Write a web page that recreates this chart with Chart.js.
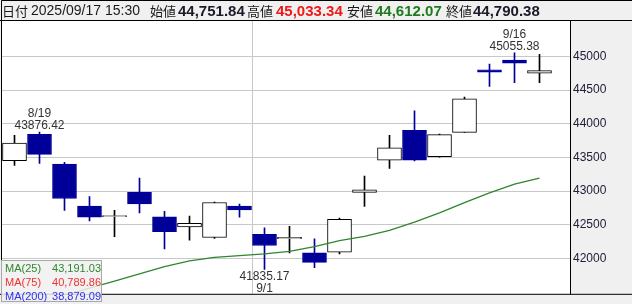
<!DOCTYPE html>
<html>
<head>
<meta charset="utf-8">
<script src="https://cdn.jsdelivr.net/npm/chart.js@4.4.1/dist/chart.umd.min.js"></script>
<style>
  body { margin: 0; background: #fff; }
  #wrap { position: relative; width: 632px; height: 304px; font-family: "Liberation Sans", Arial, "Noto Sans CJK JP", sans-serif; }
  canvas { position: absolute; left: 0; top: 0; }
  .hd { position: absolute; top: 0; line-height: 21px; white-space: nowrap; color: #1a1a1a; }
  .jp { font-family: "Noto Sans CJK JP", sans-serif; font-size: 13px; }
  .tm { font-size: 14px; }
  .vl { font-size: 15px; font-weight: bold; }
  #legend { position: absolute; left: 1px; top: 260px; width: 99px; height: 40px; border: 1px solid #a8a8a8;
            background: rgba(240, 240, 240, 0.85); font-size: 11px; line-height: 14px; }
  #legend div { display: flex; justify-content: space-between; padding: 0 0 0 3px; }
</style>
</head>
<body>
<div id="wrap">
  <canvas id="myChart" width="632" height="304"></canvas>
  <div id="header"></div>
  <div id="legend"></div>
</div>
<script>
// daily candles, 2025/08/18 - 2025/09/17
const dates = ['8/18', '8/19', '8/20', '8/21', '8/22', '8/25', '8/26', '8/27', '8/28', '8/29', '9/1',
               '9/2', '9/3', '9/4', '9/5', '9/8', '9/9', '9/10', '9/11', '9/12', '9/16', '9/17'];
const opens  = [43452, 43844, 43399, 42776, 42620, 42979, 42616, 42467, 42308, 42776, 42356,
                42290, 42080, 42090, 42979, 43457, 43902, 43510, 43873, 44804, 44949, 44751.84];
const highs  = [43829, 43876.42, 43428, 42916, 42713, 43192, 42699, 42627, 42835, 42805, 42453,
                42476, 42287, 42598, 43221, 43829, 44191, 43848, 44399, 44887, 45055.38, 45033.34];
const lows   = [43380, 43409, 42713, 42554, 42322, 42674, 42138, 42269, 42293, 42612, 41835.17,
                42080, 41859, 42066, 42771, 43337, 43447, 43505, 43870, 44554, 44612, 44612.07];
const closes = [43714, 43546, 42889, 42610, 42633, 42808, 42394, 42520, 42829, 42718, 42189,
                42310, 41939, 42580, 43019, 43644, 43459, 43838, 44373, 44768, 44902, 44790.38];
const ma25   = [41240, 41345, 41450, 41554, 41660, 41769, 41877, 41960, 42014, 42040, 42066,
                42103, 42174, 42261, 42324, 42416, 42537, 42674, 42826, 42971, 43102, 43191.03];
const yTicks = [42000, 42500, 43000, 43500, 44000, 44500, 45000];
const maNames  = ['MA(25)', 'MA(75)', 'MA(200)'];
const maLast   = ['43,191.03', '40,789.86', '38,879.09'];
const maColors = ['#2e862e', '#f03030', '#3030f0'];
const stamp = '2025/09/17 15:30';

const UP = '#000000', DOWN = '#000099';
const last = dates.length - 1;
const fmt = v => v.toLocaleString('en-US', { minimumFractionDigits: 2, maximumFractionDigits: 2 });

// header line
const headerItems = [
  ['jp', 2, '日付', null], ['tm', 31, stamp, null],
  ['jp', 150, '始値', null], ['vl', 178, fmt(opens[last]), '#1a1a2a'],
  ['jp', 247, '高値', null], ['vl', 276, fmt(highs[last]), '#f01818'],
  ['jp', 347, '安値', null], ['vl', 375, fmt(lows[last]), '#1f7a1f'],
  ['jp', 446, '終値', null], ['vl', 473, fmt(closes[last]), '#1a1a2a'],
];
document.getElementById('header').innerHTML = headerItems.map(([cls, x, txt, col]) =>
  `<span class="hd ${cls}" style="left:${x}px;${col ? 'color:' + col : ''}">${txt}</span>`).join('');

document.getElementById('legend').innerHTML = maNames.map((n, i) =>
  `<div style="color:${maColors[i]}"><span>${n}</span><span>${maLast[i]}</span></div>`).join('');

// month change -> vertical grid line
const monthBreaks = [];
dates.forEach((d, i) => { if (i > 0 && d.split('/')[0] !== dates[i - 1].split('/')[0]) monthBreaks.push(i - 0.5); });

const isUp = dates.map((d, i) => closes[i] >= opens[i]);

const frame = {
  id: 'frame',
  beforeDraw(chart) {
    const { ctx, chartArea: a } = chart;
    ctx.save();
    ctx.fillStyle = '#f0f0f0';
    ctx.fillRect(0, 0, chart.width, chart.height);
    ctx.fillStyle = '#ffffff';
    ctx.fillRect(a.left, a.top, a.right - a.left, a.bottom - a.top);
    ctx.restore();
  },
  afterDraw(chart) {
    const { ctx, chartArea: a } = chart;
    ctx.save();
    ctx.strokeStyle = '#000';
    ctx.lineWidth = 1;
    ctx.beginPath();
    ctx.moveTo(1.5, 0.5); ctx.lineTo(chart.width, 0.5);
    ctx.moveTo(1.5, 0.5); ctx.lineTo(1.5, a.bottom + 0.5);
    ctx.moveTo(0, a.top - 0.5); ctx.lineTo(chart.width, a.top - 0.5);
    ctx.moveTo(0, a.bottom + 0.5); ctx.lineTo(chart.width, a.bottom + 0.5);
    ctx.moveTo(a.right + 0.5, a.top - 0.5); ctx.lineTo(a.right + 0.5, a.bottom + 0.5);
    ctx.stroke();
    ctx.restore();
  }
};

// high / low labels
const extremes = {
  id: 'extremes',
  afterDatasetsDraw(chart) {
    const { ctx, scales: { x, y } } = chart;
    const hi = highs.indexOf(Math.max(...highs));
    const lo = lows.indexOf(Math.min(...lows));
    const hiPrev = highs.slice(0, 10).indexOf(Math.max(...highs.slice(0, 10)));
    ctx.save();
    ctx.font = '12px "Liberation Sans", Arial, sans-serif';
    ctx.fillStyle = '#333';
    ctx.textAlign = 'center';
    ctx.textBaseline = 'middle';
    [hi, hiPrev].forEach(i => {
      const px = x.getPixelForValue(i), py = y.getPixelForValue(highs[i]);
      ctx.fillText(highs[i].toFixed(2), px, py - 6);
      ctx.fillText(dates[i], px, py - 18);
    });
    const px = x.getPixelForValue(lo), py = y.getPixelForValue(lows[lo]);
    ctx.fillText(lows[lo].toFixed(2), px, py + 7);
    ctx.fillText(dates[lo], px, py + 19);
    ctx.restore();
  }
};

const config = {
  data: {
    datasets: [
      {
        type: 'line',
        data: dates.map((d, i) => ({ x: i, y: ma25[i] })),
        borderColor: '#2e862e',
        borderWidth: 1.3,
        pointRadius: 0,
        order: 0
      },
      {
        type: 'bar',
        data: dates.map((d, i) => ({ x: i, y: [opens[i], closes[i]] })),
        backgroundColor: isUp.map(u => u ? '#ffffff' : DOWN),
        borderColor: isUp.map(u => u ? UP : DOWN),
        borderWidth: 1,
        borderSkipped: false,
        barThickness: 24,
        minBarLength: 1,
        grouped: false,
        order: 1
      },
      {
        type: 'bar',
        data: dates.map((d, i) => ({ x: i, y: [lows[i], highs[i]] })),
        backgroundColor: isUp.map(u => u ? UP : DOWN),
        borderWidth: 0,
        barThickness: 1,
        grouped: false,
        order: 2
      }
    ]
  },
  options: {
    responsive: false,
    animation: false,
    layout: { padding: { left: 2, top: 21, bottom: 3, right: 0 } },
    plugins: { legend: { display: false }, tooltip: { enabled: false } },
    scales: {
      x: {
        type: 'linear',
        offset: false,
        min: -0.5,
        max: 22.22,
        afterBuildTicks: s => { s.ticks = monthBreaks.map(v => ({ value: v })); },
        ticks: { display: false },
        grid: { color: '#c8c8c8', drawTicks: false, offset: false },
        border: { display: false }
      },
      y: {
        position: 'right',
        min: 41471,
        max: 45529,
        afterFit: s => { s.width = 62; },
        afterBuildTicks: s => { s.ticks = yTicks.map(v => ({ value: v })); },
        ticks: {
          color: '#20203a',
          padding: 3,
          font: { family: '"Liberation Sans", Arial, sans-serif', size: 12 },
          callback: v => String(v)
        },
        grid: { color: '#c8c8c8', drawTicks: false },
        border: { display: false }
      }
    }
  },
  plugins: [frame, extremes]
};

new Chart(document.getElementById('myChart'), config);
</script>
</body>
</html>
